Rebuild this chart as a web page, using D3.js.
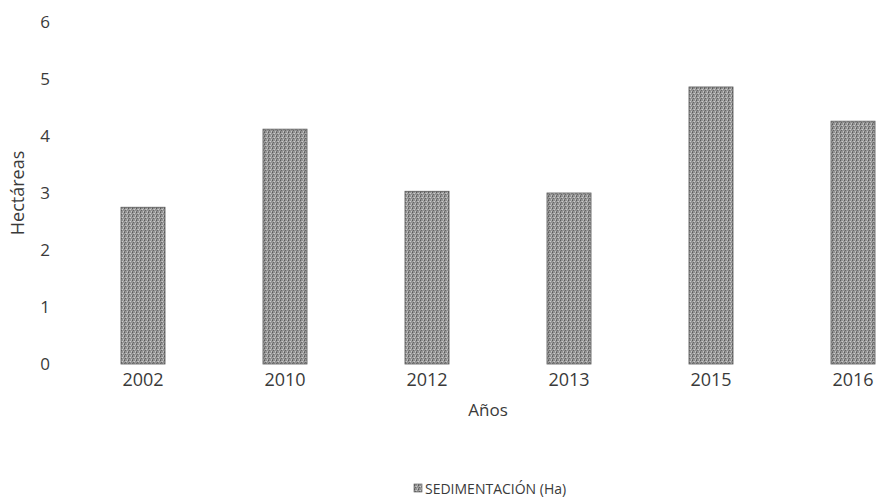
<!DOCTYPE html>
<html>
<head>
<meta charset="utf-8">
<script src="https://cdn.jsdelivr.net/npm/d3@7"></script>
<style>
  body { margin: 0; background: #fff; }
  text { font-family: "Open Sans", sans-serif; fill: #3a3a3a; }
</style>
</head>
<body>
<svg id="chart"></svg>
<script>
var years = ['2002', '2010', '2012', '2013', '2015', '2016'];
var sedimentacion = [2.75, 4.12, 3.03, 3.0, 4.86, 4.26];
var yTicks = [0, 1, 2, 3, 4, 5, 6];
var seriesName = 'SEDIMENTACIÓN (Ha)';

var w = 879, h = 504;
var svg = d3.select('#chart').attr('width', w).attr('height', h);

// scanned grey texture for the bars
var defs = svg.append('defs');
var pat = defs.append('pattern').attr('id', 'grain')
    .attr('patternUnits', 'userSpaceOnUse').attr('width', 4).attr('height', 4);
pat.append('rect').attr('width', 4).attr('height', 4).attr('fill', '#939393');
[[0, 0, '#5a5a5a'], [2, 1, '#cacaca'], [1, 2, '#666'], [3, 3, '#c2c2c2'], [3, 0, '#adadad'], [0, 3, '#777'], [1, 1, '#b0b0b0']].forEach(function (p) {
    pat.append('rect').attr('x', p[0]).attr('y', p[1]).attr('width', 1).attr('height', 1).attr('fill', p[2]);
});

var x = d3.scaleBand().domain(years).range([72, 924]).paddingInner(0.69).paddingOuter(0.345);
var y = d3.scaleLinear().domain([0, 6]).range([364, 22]);

var g = svg.append('g');

g.selectAll('.bar').data(sedimentacion).enter().append('rect')
    .attr('class', 'bar')
    .attr('x', function (d, i) { return x(years[i]); })
    .attr('y', function (d) { return y(d); })
    .attr('width', x.bandwidth())
    .attr('height', function (d) { return y(0) - y(d); })
    .attr('fill', 'url(#grain)')
    .attr('stroke', '#555').attr('stroke-width', 0.8);

var yAxis = g.append('g').attr('transform', 'translate(48,0)')
    .call(d3.axisLeft(y).tickValues(yTicks).tickFormat(d3.format('d')).tickSize(0).tickPadding(0));
yAxis.select('.domain').remove();
yAxis.selectAll('text').attr('text-anchor', 'middle').attr('dy', '0.35em')
    .style('font-size', '17px').attr('x', -3);

var xAxis = g.append('g').attr('transform', 'translate(0,' + y(0) + ')')
    .call(d3.axisBottom(x).tickSize(0).tickPadding(9));
xAxis.select('.domain').remove();
xAxis.selectAll('text').style('font-size', '18px');

svg.append('text').attr('x', 488).attr('y', 416).attr('text-anchor', 'middle')
    .style('font-size', '17px').text('Años');

svg.append('text').attr('transform', 'translate(24,193) rotate(-90)')
    .attr('text-anchor', 'middle').style('font-size', '18px').text('Hectáreas');

var legend = svg.append('g').attr('transform', 'translate(414,489)');
legend.append('rect').attr('x', 0).attr('y', -5).attr('width', 8).attr('height', 8)
    .attr('fill', 'url(#grain)').attr('stroke', '#555').attr('stroke-width', 0.6);
legend.append('text').attr('x', 11).attr('y', 0).attr('dy', '0.35em')
    .style('font-size', '14px').text(seriesName);
</script>
</body>
</html>
